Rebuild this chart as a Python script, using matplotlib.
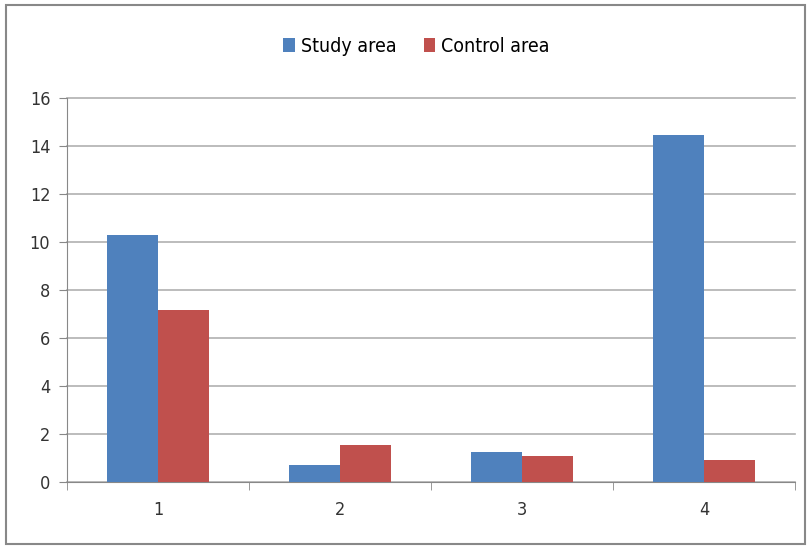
import matplotlib.pyplot as plt
import matplotlib.patches as patches
import numpy as np

plt.rcParams["font.family"] = "DejaVu Sans"
plt.rcParams["font.stretch"] = "condensed"

# data
categories = ["1", "2", "3", "4"]
study_area = [10.3, 0.7, 1.25, 14.45]
control_area = [7.15, 1.55, 1.07, 0.92]

blue = "#4f81bd"
red = "#c0504d"

fig = plt.figure(figsize=(8.1, 5.47), dpi=100)
ax = fig.add_axes([0.0827, 0.1188, 0.8988, 0.702])

x = np.arange(len(categories))
w = 0.28
ax.bar(x - w / 2, study_area, w, color=blue, label="Study area", zorder=3)
ax.bar(x + w / 2, control_area, w, color=red, label="Control area", zorder=3)

ax.set_xlim(-0.5, len(categories) - 0.5)
ax.set_ylim(0, 16)
ax.set_yticks(range(0, 17, 2))
ax.set_xticks(x)
ax.set_xticklabels(categories)
ax.set_xticks(np.arange(-0.5, len(categories), 1), minor=True)
ax.tick_params(axis="x", which="major", length=0, pad=14)
ax.tick_params(axis="x", which="minor", length=6, color="#888888", direction="out")
ax.tick_params(axis="y", length=6, color="#888888", pad=6)
ax.tick_params(labelsize=13, labelcolor="#333333")

ax.yaxis.grid(True, color="#b0b0b0", linewidth=1.2, zorder=0)
for gl in ax.get_ygridlines():
    gl.set_clip_on(False)
for s in ["top", "right"]:
    ax.spines[s].set_visible(False)
ax.spines["left"].set_color("#888888")
ax.spines["bottom"].set_color("#888888")

ax.legend(loc="center", bbox_to_anchor=(0.48, 1.135),
          bbox_transform=ax.transAxes, ncol=2, frameon=False, fontsize=14,
          handlelength=0.6, handleheight=0.7, handletextpad=0.3, columnspacing=1.4)

fig.patches.append(patches.Rectangle((6 / 810, 3 / 547), 799 / 810, 539 / 547,
                                     transform=fig.transFigure, fill=False,
                                     edgecolor="#888888", linewidth=1.5))

fig.savefig("out.png", dpi=100)
